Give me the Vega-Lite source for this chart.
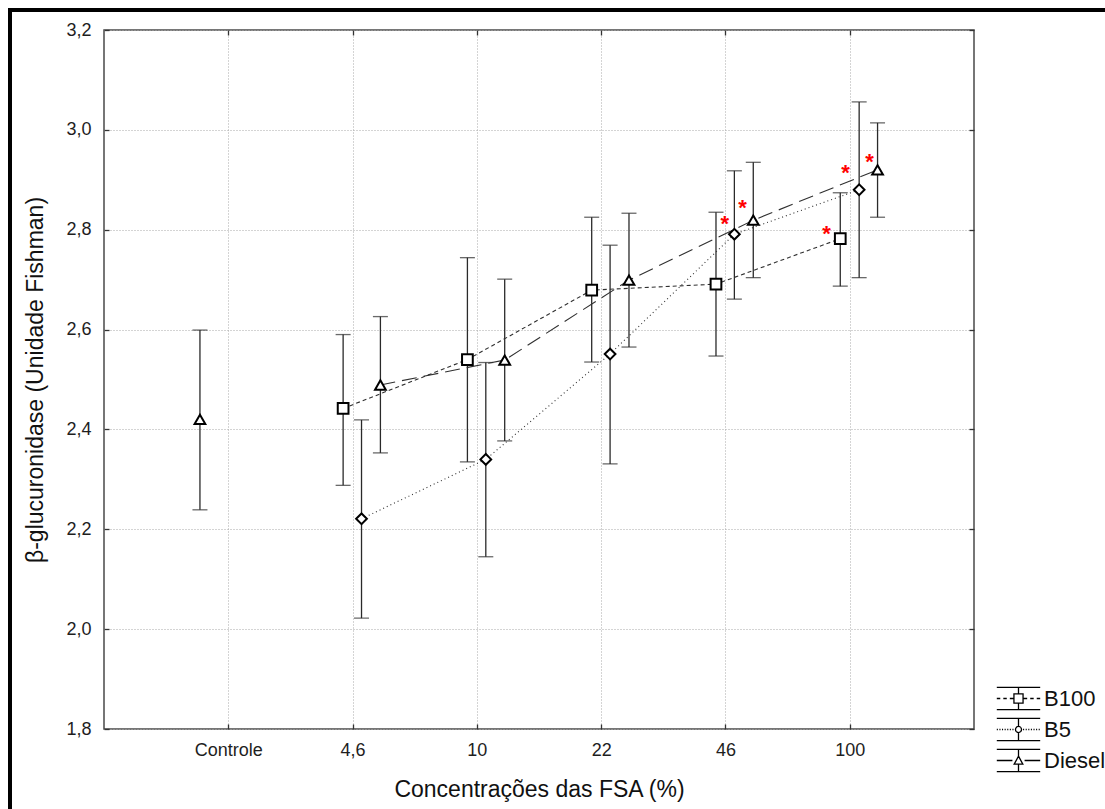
{
  "$schema": "https://vega.github.io/schema/vega-lite/v6.json",
  "padding": {"left": 8, "top": 8, "right": 0, "bottom": 0},
  "background": "white",
  "config": {
    "font": "Liberation Sans",
    "view": {"stroke": null}
  },
  "datasets": {
    "points": [
      {"series": "B100", "conc": "4,6", "xpos": 0.924, "mean": 2.442, "lo": 2.288, "hi": 2.590},
      {"series": "B100", "conc": "10", "xpos": 1.924, "mean": 2.540, "lo": 2.335, "hi": 2.744},
      {"series": "B100", "conc": "22", "xpos": 2.924, "mean": 2.679, "lo": 2.535, "hi": 2.825},
      {"series": "B100", "conc": "46", "xpos": 3.924, "mean": 2.691, "lo": 2.547, "hi": 2.835},
      {"series": "B100", "conc": "100", "xpos": 4.924, "mean": 2.782, "lo": 2.687, "hi": 2.874},
      {"series": "B5", "conc": "4,6", "xpos": 1.072, "mean": 2.221, "lo": 2.022, "hi": 2.419},
      {"series": "B5", "conc": "10", "xpos": 2.072, "mean": 2.340, "lo": 2.145, "hi": 2.534},
      {"series": "B5", "conc": "22", "xpos": 3.072, "mean": 2.551, "lo": 2.331, "hi": 2.769},
      {"series": "B5", "conc": "46", "xpos": 4.072, "mean": 2.791, "lo": 2.661, "hi": 2.918},
      {"series": "B5", "conc": "100", "xpos": 5.076, "mean": 2.880, "lo": 2.704, "hi": 3.056},
      {"series": "Diesel", "conc": "Controle", "xpos": -0.228, "mean": 2.420, "lo": 2.239, "hi": 2.599},
      {"series": "Diesel", "conc": "4,6", "xpos": 1.224, "mean": 2.489, "lo": 2.353, "hi": 2.626},
      {"series": "Diesel", "conc": "10", "xpos": 2.224, "mean": 2.539, "lo": 2.377, "hi": 2.701},
      {"series": "Diesel", "conc": "22", "xpos": 3.224, "mean": 2.699, "lo": 2.565, "hi": 2.833},
      {"series": "Diesel", "conc": "46", "xpos": 4.224, "mean": 2.819, "lo": 2.704, "hi": 2.935},
      {"series": "Diesel", "conc": "100", "xpos": 5.224, "mean": 2.920, "lo": 2.825, "hi": 3.014}
    ],
    "stars": [
      {"series": "B5", "conc": "46", "xpos": 3.994, "y": 2.821},
      {"series": "Diesel", "conc": "46", "xpos": 4.138, "y": 2.854},
      {"series": "B100", "conc": "100", "xpos": 4.814, "y": 2.801},
      {"series": "B5", "conc": "100", "xpos": 4.967, "y": 2.924},
      {"series": "Diesel", "conc": "100", "xpos": 5.160, "y": 2.946}
    ],
    "strip": []
  },
  "concat": [
    {
      "concat": [
        {
          "width": 4, "height": 22,
          "data": {"name": "strip"},
          "mark": {"type": "text", "text": ""},
          "encoding": {},
          "view": {"fill": "black", "stroke": null}
        },
        {
          "width": 1093, "height": 4,
          "data": {"name": "strip"},
          "mark": {"type": "text", "text": ""},
          "encoding": {},
          "view": {"fill": "black", "stroke": null}
        }
      ],
      "columns": 2,
      "align": "none",
      "spacing": 0
    },
    {
      "concat": [
        {
          "width": 4, "height": 779,
          "data": {"name": "strip"},
          "mark": {"type": "text", "text": ""},
          "encoding": {},
          "view": {"fill": "black", "stroke": null}
        },
        {
          "width": 870, "height": 699,
          "view": {"stroke": "#4a4a4a", "strokeWidth": 1.5},
          "data": {"name": "points"},
          "layer": [
            {
              "mark": {"type": "rule", "color": "#2a2a2a", "strokeWidth": 1.3},
              "encoding": {
                "x": {"field": "xpos", "type": "quantitative",
                  "scale": {"domain": [-1, 6], "nice": false, "zero": false},
                  "axis": {"values": [0, 1, 2, 3, 4, 5],
                    "labelExpr": "['Controle','4,6','10','22','46','100'][datum.value]",
                    "title": "Concentrações das FSA (%)",
                    "grid": true, "gridDash": [1, 2], "gridColor": "#a8a8a8", "gridWidth": 1,
                    "domain": false, "tickSize": -5, "tickColor": "#333333", "tickWidth": 1.3,
                    "labelFontSize": 18, "labelColor": "#1e1e1e", "labelPadding": 17, "labelFont": "Liberation Sans",
                    "titleFontSize": 23, "titleFontWeight": "normal", "titleColor": "#111111", "titlePadding": 19, "titleFont": "Liberation Sans"}},
                "y": {"field": "lo", "type": "quantitative",
                  "scale": {"domain": [1.8, 3.2], "nice": false, "zero": false},
                  "axis": {"values": [1.8, 2.0, 2.2, 2.4, 2.6, 2.8, 3.0, 3.2],
                    "labelExpr": "replace(format(datum.value, '.1f'), '.', ',')",
                    "title": "β-glucuronidase (Unidade Fishman)",
                    "grid": true, "gridDash": [1, 2], "gridColor": "#a8a8a8", "gridWidth": 1,
                    "domain": false, "tickSize": -5, "tickColor": "#333333", "tickWidth": 1.3,
                    "labelFontSize": 18, "labelColor": "#1e1e1e", "labelPadding": 18, "labelFont": "Liberation Sans",
                    "titleFontSize": 23, "titleFontWeight": "normal", "titleColor": "#111111", "titlePadding": 18, "titleFont": "Liberation Sans"}},
                "y2": {"field": "hi"}
              }
            },
            {
              "mark": {"type": "tick", "orient": "horizontal", "color": "#2a2a2a", "size": 15, "thickness": 1.3},
              "encoding": {
                "x": {"field": "xpos", "type": "quantitative",
                  "axis": {"orient": "top", "values": [0, 1, 2, 3, 4, 5], "labels": false, "title": null, "grid": false,
                    "domain": false, "tickSize": -5, "tickColor": "#333333", "tickWidth": 1.3, "minExtent": 0, "maxExtent": 0}},
                "y": {"field": "lo", "type": "quantitative",
                  "axis": {"orient": "right", "values": [1.8, 2.0, 2.2, 2.4, 2.6, 2.8, 3.0, 3.2], "labels": false, "title": null, "grid": false,
                    "domain": false, "tickSize": -5, "tickColor": "#333333", "tickWidth": 1.3, "minExtent": 0, "maxExtent": 0}}
              }
            },
            {
              "mark": {"type": "tick", "orient": "horizontal", "color": "#2a2a2a", "size": 15, "thickness": 1.3},
              "encoding": {
                "x": {"field": "xpos", "type": "quantitative", "axis": null},
                "y": {"field": "hi", "type": "quantitative", "axis": null}
              }
            },
            {
              "transform": [{"filter": "datum.conc !== 'Controle'"}],
              "mark": {"type": "line", "color": "#303030", "strokeWidth": 1.1},
              "encoding": {
                "x": {"field": "xpos", "type": "quantitative", "axis": null},
                "y": {"field": "mean", "type": "quantitative", "axis": null},
                "strokeDash": {"field": "series", "type": "nominal",
                  "scale": {"domain": ["B100", "B5", "Diesel"], "range": [[4, 3], [1, 3], [15, 7]]}, "legend": null}
              }
            },
            {
              "mark": {"type": "point", "filled": true, "fill": "white", "fillOpacity": 1, "stroke": "black", "strokeWidth": 2, "opacity": 1, "size": 115},
              "encoding": {
                "x": {"field": "xpos", "type": "quantitative", "axis": null},
                "y": {"field": "mean", "type": "quantitative", "axis": null},
                "shape": {"field": "series", "type": "nominal",
                  "scale": {"domain": ["B100", "B5", "Diesel"], "range": ["square", "diamond", "triangle-up"]}, "legend": null}
              }
            },
            {
              "data": {"name": "stars"},
              "mark": {"type": "text", "text": "*", "color": "#ff0000", "fontSize": 22, "fontWeight": "bold", "baseline": "alphabetic", "dy": 12, "font": "Liberation Sans"},
              "encoding": {
                "x": {"field": "xpos", "type": "quantitative", "axis": null},
                "y": {"field": "y", "type": "quantitative", "axis": null}
              }
            },
            {
              "transform": [{"filter": "false"}],
              "mark": {"type": "point", "filled": false, "stroke": "black", "strokeWidth": 1.3, "opacity": 1},
              "encoding": {
                "shape": {"field": "series", "type": "nominal",
                  "scale": {"domain": ["B100", "B5", "Diesel"],
                    "range": [
                      "M-1,-0.51H1M-1,0.51H1M0,-0.51V-0.21M0,0.21V0.51M-0.21,-0.21H0.21V0.21H-0.21ZM-1,0H-0.84M-0.70,0H-0.54M-0.40,0H-0.24M0.24,0H0.40M0.54,0H0.70M0.84,0H1",
                      "M-1,-0.51H1M-1,0.51H1M0,-0.51V-0.14M0,0.14V0.51M-0.14,0A0.14,0.14 0 1,0 0.14,0A0.14,0.14 0 1,0 -0.14,0ZM-1,0H-0.95M-0.88,0H-0.83M-0.76,0H-0.71M-0.64,0H-0.59M-0.52,0H-0.47M-0.40,0H-0.35M-0.28,0H-0.23M0.21,0H0.26M0.33,0H0.38M0.45,0H0.50M0.57,0H0.62M0.69,0H0.74M0.81,0H0.86M0.93,0H0.98",
                      "M-1,-0.51H1M-1,0.51H1M0,-0.51V-0.2M0,0.17V0.51M0,-0.2L0.2,0.17H-0.2ZM-1,0H-0.28M0.28,0H1"
                    ]},
                  "legend": {"title": null, "orient": "none", "legendX": 892, "legendY": 653,
                    "symbolSize": 1884, "symbolStrokeWidth": 1.3, "symbolStrokeColor": "black", "symbolFillColor": "white",
                    "labelFontSize": 22, "labelFont": "Liberation Sans", "labelColor": "#111111",
                    "clipHeight": 31, "rowPadding": 0, "labelOffset": 3, "padding": 0}}
              }
            }
          ],
          "resolve": {
            "scale": {"shape": "independent"},
            "legend": {"shape": "independent"},
            "axis": {"x": "independent", "y": "independent"}
          }
        }
      ],
      "columns": 2,
      "align": "none",
      "spacing": 12
    }
  ],
  "columns": 1,
  "align": "none",
  "spacing": -10
}
